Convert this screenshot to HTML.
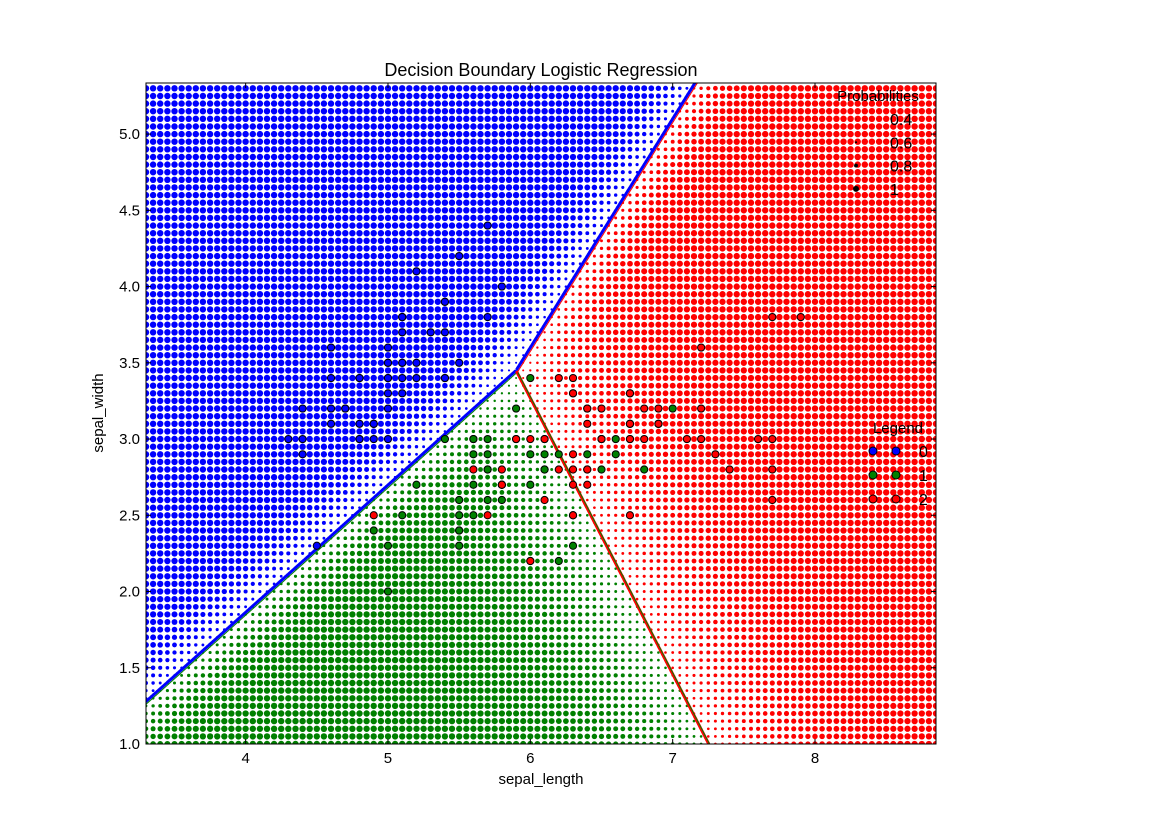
<!DOCTYPE html>
<html><head><meta charset="utf-8"><style>
html,body{margin:0;padding:0;background:#fff;overflow:hidden;width:1170px;height:827px;}
svg{display:block;font-family:"Liberation Sans","DejaVu Sans",sans-serif;}
</style></head><body>
<svg id="chart" width="1170" height="827" viewBox="0 0 1170 827">
<defs><clipPath id="clip"><rect x="146" y="83" width="790" height="661"/></clipPath></defs>
<text x="541" y="76" text-anchor="middle" font-size="18">Decision Boundary Logistic Regression</text>
<g id="grid" clip-path="url(#clip)"></g>
<g id="bounds" clip-path="url(#clip)"></g>
<g id="pts" clip-path="url(#clip)"></g>
<rect x="146" y="83" width="790" height="661" fill="none" stroke="#000" stroke-width="1"/>
<g id="axes"></g>
<text x="541" y="784" text-anchor="middle" font-size="15">sepal_length</text>
<text x="103" y="413" text-anchor="middle" font-size="15" transform="rotate(-90 103 413)">sepal_width</text>
<g id="legend-prob"></g>
<g id="legend-class"></g>
</svg>
<script>
const xTicks=[4,5,6,7,8];
const yTicks=[1.0,1.5,2.0,2.5,3.0,3.5,4.0,4.5,5.0];
const classColors=['#0000ff','#008000','#ff0000'];
const probLabels=['0.4','0.6','0.8','1'];
const probValues=[0.4,0.6,0.8,1.0];
const classLabels=['0','1','2'];
// triple point and boundary slopes of the fitted model
const model={tx:5.9,ty:3.45,slopeBG:0.835,slopeGR:-1.81,A:8,B:2.91};
const setosa=[[5.1,3.5],[4.9,3.0],[4.7,3.2],[4.6,3.1],[5.0,3.6],[5.4,3.9],[4.6,3.4],[5.0,3.4],[4.4,2.9],[4.9,3.1],[5.4,3.7],[4.8,3.4],[4.8,3.0],[4.3,3.0],[5.8,4.0],[5.7,4.4],[5.4,3.9],[5.1,3.5],[5.7,3.8],[5.1,3.8],[5.4,3.4],[5.1,3.7],[4.6,3.6],[5.1,3.3],[4.8,3.4],[5.0,3.0],[5.0,3.4],[5.2,3.5],[5.2,3.4],[4.7,3.2],[4.8,3.1],[5.4,3.4],[5.2,4.1],[5.5,4.2],[4.9,3.1],[5.0,3.2],[5.5,3.5],[4.9,3.1],[4.4,3.0],[5.1,3.4],[5.0,3.5],[4.5,2.3],[4.4,3.2],[5.0,3.5],[5.1,3.8],[4.8,3.0],[5.1,3.8],[4.6,3.2],[5.3,3.7],[5.0,3.3]];
const versicolor=[[7.0,3.2],[6.4,3.2],[6.9,3.1],[5.5,2.3],[6.5,2.8],[5.7,2.8],[6.3,3.3],[4.9,2.4],[6.6,2.9],[5.2,2.7],[5.0,2.0],[5.9,3.0],[6.0,2.2],[6.1,2.9],[5.6,2.9],[6.7,3.1],[5.6,3.0],[5.8,2.7],[6.2,2.2],[5.6,2.5],[5.9,3.2],[6.1,2.8],[6.3,2.5],[6.1,2.8],[6.4,2.9],[6.6,3.0],[6.8,2.8],[6.7,3.0],[6.0,2.9],[5.7,2.6],[5.5,2.4],[5.5,2.4],[5.8,2.7],[6.0,2.7],[5.4,3.0],[6.0,3.4],[6.7,3.1],[6.3,2.3],[5.6,3.0],[5.5,2.5],[5.5,2.6],[6.1,3.0],[5.8,2.6],[5.0,2.3],[5.6,2.7],[5.7,3.0],[5.7,2.9],[6.2,2.9],[5.1,2.5],[5.7,2.8]];
const virginica=[[6.3,3.3],[5.8,2.7],[7.1,3.0],[6.3,2.9],[6.5,3.0],[7.6,3.0],[4.9,2.5],[7.3,2.9],[6.7,2.5],[7.2,3.6],[6.5,3.2],[6.4,2.7],[6.8,3.0],[5.7,2.5],[5.8,2.8],[6.4,3.2],[6.5,3.0],[7.7,3.8],[7.7,2.6],[6.0,2.2],[6.9,3.2],[5.6,2.8],[7.7,2.8],[6.3,2.7],[6.7,3.3],[7.2,3.2],[6.2,2.8],[6.1,3.0],[6.4,2.8],[7.2,3.0],[7.4,2.8],[7.9,3.8],[6.4,2.8],[6.3,2.8],[6.1,2.6],[7.7,3.0],[6.3,3.4],[6.4,3.1],[6.0,3.0],[6.9,3.1],[6.7,3.1],[6.9,3.1],[5.8,2.7],[6.8,3.2],[6.7,3.3],[6.7,3.0],[6.3,2.5],[6.5,3.0],[6.2,3.4],[5.9,3.0]];

const NS='http://www.w3.org/2000/svg';
const X0=146,X1=936,Y0=744,Y1=83,xmin=3.3,xmax=8.85,ymin=1.0,ymax=5.335;
const sx=v=>X0+(v-xmin)/(xmax-xmin)*(X1-X0);
const sy=v=>Y0-(v-ymin)/(ymax-ymin)*(Y0-Y1);
function mk(tag,attrs,parent){const e=document.createElementNS(NS,tag);for(const k in attrs)e.setAttribute(k,attrs[k]);parent.appendChild(e);return e;}
function scores(x,y){const m=model;const dx=x-m.tx,dy=y-m.ty;
 return [m.A*(dy-m.slopeBG*dx),0,m.B*(dx+dy/(-m.slopeGR))];}
function probs(x,y){const s=scores(x,y);const mx=Math.max(...s);const e=s.map(v=>Math.exp(v-mx));const t=e[0]+e[1]+e[2];return e.map(v=>v/t);}
const rad=p=>0.6+2.6*p*p;

// grid
const grid=document.getElementById('grid');
let html='';
for(let i=0;;i++){const x=xmin+0.05*i;if(x>xmax+0.01)break;
 for(let j=0;;j++){const y=ymin+0.05*j;if(y>ymax+0.01)break;
  const p=probs(x,y);let c=0;if(p[1]>p[c])c=1;if(p[2]>p[c])c=2;
  html+=`<circle cx="${sx(x).toFixed(1)}" cy="${sy(y).toFixed(1)}" r="${rad(p[c]).toFixed(2)}" fill="${classColors[c]}"/>`;}}
grid.innerHTML=html;

// boundaries
const bounds=document.getElementById('bounds');
function boundary(a,b,colA,colB){let pts=[];
 for(let k=0;k<=2000;k++){const x=xmin-0.2+k*(xmax-xmin+0.4)/2000;
  let lo=-2,hi=9;const f=y=>{const s=scores(x,y);return s[a]-s[b];};
  const flo=f(lo),fhi=f(hi);if(flo*fhi>0)continue;
  for(let it=0;it<40;it++){const mid=(lo+hi)/2;if(f(mid)*flo>0)lo=mid;else hi=mid;}
  const y=(lo+hi)/2;const s=scores(x,y);const other=3-a-b;
  if(s[a]>=s[other]-1e-9)pts.push(sx(x).toFixed(1)+','+sy(y).toFixed(1));}
 if(!pts.length)return;
 const p=mk('polyline',{points:pts.join(' '),fill:'none',stroke:colA,'stroke-width':3},bounds);
 
 const q=mk('polyline',{points:pts.join(' '),fill:'none',stroke:colB,'stroke-width':1,transform:'translate(1.5,1.5)'},bounds);
 }
boundary(0,1,'#0000ff','#008000');
boundary(1,2,'#ff0000','#008000');
boundary(0,2,'#0000ff','#ff0000');

// points
const ptsG=document.getElementById('pts');
[setosa,versicolor,virginica].forEach((arr,c)=>arr.forEach(([x,y])=>{
 const e=mk('circle',{cx:sx(x),cy:sy(y),r:3.6,fill:classColors[c],stroke:'#000','stroke-width':1},ptsG);
 }));

// axes
const ax=document.getElementById('axes');
xTicks.forEach(t=>{const x=sx(t);
 mk('line',{x1:x,y1:Y0,x2:x,y2:Y0-5,stroke:'#000'},ax);mk('line',{x1:x,y1:Y1,x2:x,y2:Y1+5,stroke:'#000'},ax);
 const tx=mk('text',{x:x,y:Y0+19,'text-anchor':'middle','font-size':15},ax);tx.textContent=t;
 });
yTicks.forEach(t=>{const y=sy(t);
 mk('line',{x1:X0,y1:y,x2:X0+5,y2:y,stroke:'#000'},ax);mk('line',{x1:X1,y1:y,x2:X1-5,y2:y,stroke:'#000'},ax);
 const tx=mk('text',{x:X0-6,y:y+5,'text-anchor':'end','font-size':15},ax);tx.textContent=t.toFixed(1);
 });

// probability legend
const lp=document.getElementById('legend-prob');
let t=mk('text',{x:878,y:101,'text-anchor':'middle','font-size':15},lp);t.textContent='Probabilities';

probValues.forEach((p,i)=>{const y=119+i*23.3;
 mk('circle',{cx:856,cy:y,r:3*p*p,fill:'#000'},lp);
 const l=mk('text',{x:890,y:y+6,'font-size':16},lp);l.textContent=probLabels[i];
 });

// class legend
const lc=document.getElementById('legend-class');
t=mk('text',{x:898,y:433,'text-anchor':'middle','font-size':15},lc);t.textContent='Legend';

classLabels.forEach((lab,i)=>{const y=451+i*24;
 [873,896].forEach(x=>mk('circle',{cx:x,cy:y,r:4,fill:classColors[i],stroke:'#000','stroke-width':1},lc));
 const l=mk('text',{x:919,y:y+6,'font-size':16},lc);l.textContent=lab;
 });
</script>
</body></html>
